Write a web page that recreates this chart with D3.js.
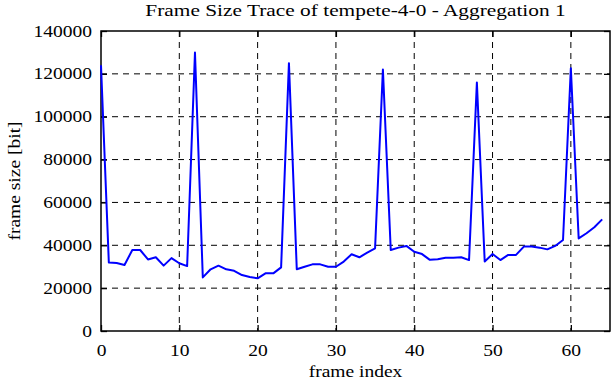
<!DOCTYPE html>
<html>
<head>
<meta charset="utf-8">
<script src="https://cdn.jsdelivr.net/npm/d3@7"></script>
<style>
  body { margin: 0; background: #fff; }
  text { font-family: "Liberation Serif", "Times New Roman", serif; fill: #000; }
</style>
</head>
<body>
<div id="chart"></div>
<script>
// frame sizes, one value per frame index
var frameIndex = d3.range(0, 65);
var frameSize = [
  124000, 32000, 31700, 30800, 37800, 37800, 33400, 34400, 30500, 34000,
  31600, 30300, 130000, 25000, 28800, 30500, 28800, 28100, 26100, 25200,
  24600, 26900, 26900, 29700, 125000, 28800, 30000, 31100, 31100, 30000,
  30000, 32400, 35800, 34400, 36600, 38600, 122000, 37800, 38900, 39700,
  37000, 35900, 33200, 33500, 34200, 34200, 34400, 33100, 116000, 32400,
  35900, 33100, 35500, 35500, 39400, 39400, 38900, 38100, 39700, 42500,
  122600, 43200, 45600, 48400, 52100
];
var xTicks = [0, 10, 20, 30, 40, 50, 60];
var yTicks = [0, 20000, 40000, 60000, 80000, 100000, 120000, 140000];

var title = "Frame Size Trace of tempete-4-0 - Aggregation 1";
var xLabel = "frame index";
var yLabel = "frame size [bit]";

// horizontal stretch of the serif text in the reference
var sx = 1.22;

var margin = {top: 31, right: 2, bottom: 51, left: 101},
    width = 612 - margin.left - margin.right,
    height = 382 - margin.top - margin.bottom;

var svg = d3.select("#chart")
  .append("svg")
    .attr("width", 612)
    .attr("height", 382)
  .append("g")
    .attr("transform", "translate(" + margin.left + "," + margin.top + ")");

var x = d3.scaleLinear().domain([0, 65]).range([0, width]);
var y = d3.scaleLinear().domain([0, 140000]).range([height, 0]);

// dashed grid
svg.append("g")
  .selectAll("line")
  .data(xTicks.filter(d => d > 0))
  .enter()
  .append("line")
    .attr("x1", d => x(d)).attr("x2", d => x(d))
    .attr("y1", 0).attr("y2", height)
    .style("stroke", "#000")
    .style("stroke-width", 1)
    .style("stroke-dasharray", "6,5");

svg.append("g")
  .selectAll("line")
  .data(yTicks.filter(d => d > 0 && d < 140000))
  .enter()
  .append("line")
    .attr("x1", 0).attr("x2", width)
    .attr("y1", d => y(d)).attr("y2", d => y(d))
    .style("stroke", "#000")
    .style("stroke-width", 1)
    .style("stroke-dasharray", "6,5");

// axes, ticks pointing inside on all four sides
var axisB = svg.append("g")
  .attr("transform", "translate(0," + height + ")")
  .call(d3.axisBottom(x).tickValues(xTicks).tickSizeInner(-6).tickSizeOuter(0).tickPadding(14));
var axisT = svg.append("g")
  .call(d3.axisTop(x).tickValues(xTicks).tickSizeInner(-6).tickSizeOuter(0).tickFormat(""));
var axisL = svg.append("g")
  .call(d3.axisLeft(y).tickValues(yTicks).tickSizeInner(-6).tickSizeOuter(0).tickPadding(15).tickFormat(d3.format("d")));
var axisR = svg.append("g")
  .attr("transform", "translate(" + width + ",0)")
  .call(d3.axisRight(y).tickValues(yTicks).tickSizeInner(-6).tickSizeOuter(0).tickFormat(""));

[axisB, axisT, axisL, axisR].forEach(function(g) {
  g.select(".domain").remove();
  g.selectAll("line").style("stroke", "#000").style("stroke-width", 1.3);
  g.attr("font-family", null).attr("font-size", null);
  g.selectAll("text")
    .style("font-family", "Liberation Serif, serif")
    .style("font-size", "16px")
    .style("fill", "#000");
});

// stretch the tick labels sideways like the reference
axisB.selectAll("text")
  .attr("transform", "scale(" + sx + ",1)");
axisL.selectAll("text")
  .attr("x", -9 / sx)
  .attr("transform", "scale(" + sx + ",1)");

// frame
svg.append("rect")
  .attr("x", 0).attr("y", 0)
  .attr("width", width).attr("height", height)
  .style("fill", "none")
  .style("stroke", "#000")
  .style("stroke-width", 1.5);

// trace
var line = d3.line()
  .x((d, i) => x(frameIndex[i]))
  .y(d => y(d));

svg.append("path")
  .datum(frameSize)
  .attr("d", line)
  .style("fill", "none")
  .style("stroke", "#0000ff")
  .style("stroke-width", 2)
  .style("stroke-linejoin", "round");

// titles
svg.append("text")
  .attr("transform", "translate(" + (width / 2) + ",-15) scale(" + sx + ",1)")
  .attr("text-anchor", "middle")
  .style("font-size", "17.5px")
  .text(title);

svg.append("text")
  .attr("transform", "translate(" + (width / 2) + "," + (height + 46) + ") scale(" + sx + ",1)")
  .attr("text-anchor", "middle")
  .style("font-size", "16px")
  .text(xLabel);

svg.append("text")
  .attr("transform", "translate(" + (-81) + "," + (height / 2) + ") rotate(-90) scale(" + sx + ",1)")
  .attr("text-anchor", "middle")
  .style("font-size", "16px")
  .text(yLabel);
</script>
</body>
</html>
